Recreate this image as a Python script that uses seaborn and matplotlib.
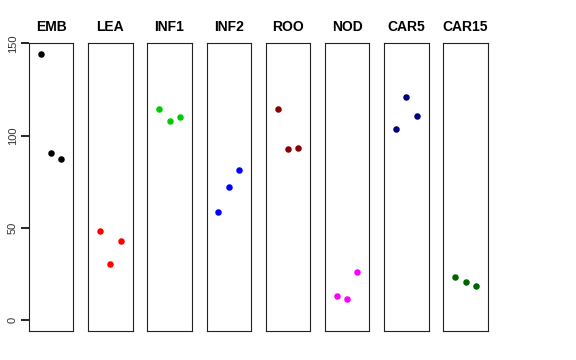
import numpy as np
import pandas as pd
import matplotlib
matplotlib.use("Agg")
import matplotlib.pyplot as plt
import seaborn as sns

# tecidos e valores (3 réplicas por tecido)
tecidos = ["EMB", "LEA", "INF1", "INF2", "ROO", "NOD", "CAR5", "CAR15"]
emb = [144.4, 90.4, 87.5]
lea = [48.1, 30.4, 42.7]
inf1 = [114.6, 107.9, 110.1]
inf2 = [58.4, 72.0, 81.5]
roo = [114.4, 92.6, 93.3]
nod = [12.8, 11.4, 26.0]
car5 = [103.6, 121.1, 110.8]
car15 = [23.2, 20.6, 18.3]
replicas = [1, 2, 3]
cores = ["black", "#FF0000", "#00CD00", "#0000FF",
         "#8B0000", "#FF00FF", "#000080", "#006400"]
y_ticks = [0, 50, 100, 150]

# %%
valores = [emb, lea, inf1, inf2, roo, nod, car5, car15]
dados = pd.DataFrame({
    "tecido": np.repeat(tecidos, len(replicas)),
    "replica": replicas * len(tecidos),
    "valor": np.concatenate(valores),
})

# %%
sns.set_style("ticks")
plt.rcParams["font.family"] = ["Liberation Sans", "DejaVu Sans"]

fig, axes = plt.subplots(1, len(tecidos), figsize=(5.76, 3.6), dpi=100)
fig.subplots_adjust(left=0.0503, right=0.8467, top=0.8797, bottom=0.0806, wspace=0.334)

for i, (ax, tecido, cor) in enumerate(zip(axes, tecidos, cores)):
    sub = dados[dados["tecido"] == tecido]
    sns.scatterplot(data=sub, x="replica", y="valor", color=cor,
                    s=22, linewidth=0, ax=ax)
    ax.set_xlim(-0.16, 4.16)
    ax.set_ylim(-6, 150)
    ax.set_xticks([])
    ax.set_xlabel("")
    ax.set_ylabel("")
    ax.set_title(tecido, fontsize=10, fontweight="bold", color="black", pad=9)
    for sp in ax.spines.values():
        sp.set_visible(True)
        sp.set_color("#222222")
        sp.set_linewidth(0.8)
    if i == 0:
        # eixo y só no primeiro painel
        ax.set_yticks(y_ticks)
        ax.tick_params(axis="y", left=True, labelleft=True, length=6,
                       width=1.2, direction="out", color="black",
                       labelsize=8, labelcolor="#333333", pad=2)
        for lbl in ax.get_yticklabels():
            lbl.set_rotation(90)
            lbl.set_va("center")
    else:
        ax.set_yticks([])

plt.savefig("out.png", dpi=100)
